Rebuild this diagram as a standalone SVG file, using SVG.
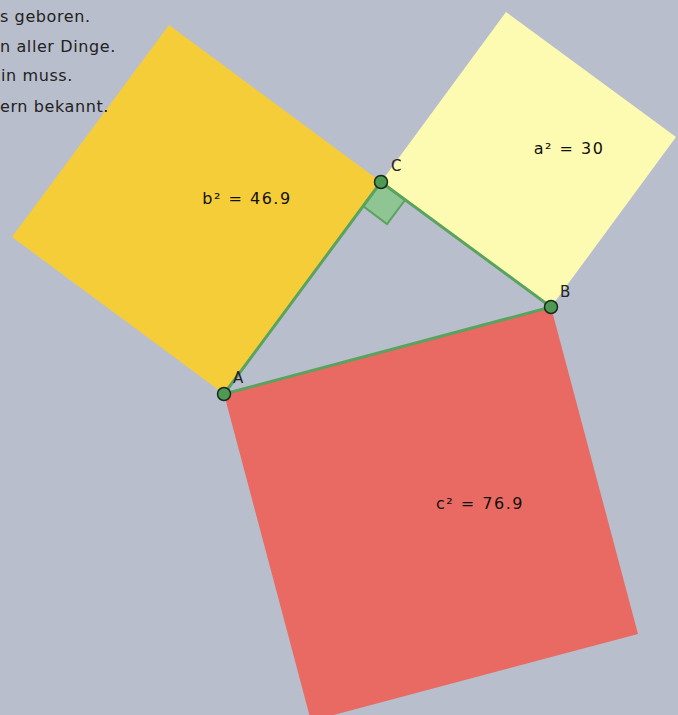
<svg xmlns="http://www.w3.org/2000/svg" width="678" height="715" viewBox="0 0 678 715">
<style>
.t{font-family:"DejaVu Sans","Liberation Sans",sans-serif;font-size:16px;letter-spacing:0.6px;fill:#222}
.lbl{font-family:"DejaVu Sans","Liberation Sans",sans-serif;font-size:16px;letter-spacing:1.5px;fill:#111;text-anchor:middle}
.pl{font-family:"DejaVu Sans","Liberation Sans",sans-serif;font-size:15px;fill:#222}
.side{stroke:#5aa35f;stroke-width:3;stroke-linecap:round;fill:none}
.pt{fill:#4e9a55;stroke:#1a2a1a;stroke-width:1.5}
</style>
<rect width="678" height="715" fill="#b9becd"/>
<g id="squareB"><polygon points="224,394 381,182 169,25 12,237" fill="#f5cd38"/><text class="lbl" x="247" y="204">b² = 46.9</text></g>
<g id="squareA"><polygon points="381,182 551,307 676,137 506,12" fill="#fdfbb1"/><text class="lbl" x="569" y="154">a² = 30</text></g>
<g id="squareC"><polygon points="224,394 551,307 638,634 311,721" fill="#e86a62"/><text class="lbl" x="480" y="509">c² = 76.9</text></g>
<g id="text">
<text class="t" x="0" y="22">s geboren.</text>
<text class="t" x="0" y="52">n aller Dinge.</text>
<text class="t" x="1" y="81">in muss.</text>
<text class="t" x="0" y="112">ern bekannt.</text>
</g>
<g id="rightangle"><polygon points="381,182 363,206 387,224 405,200" fill="#8ec592" stroke="#5aa35f" stroke-width="2"/></g>
<g id="connectors">
<line class="side" x1="224" y1="394" x2="381" y2="182"/>
<line class="side" x1="381" y1="182" x2="551" y2="307"/>
<line class="side" x1="224" y1="394" x2="551" y2="307"/>
</g>
<g id="A"><circle class="pt" cx="224" cy="394" r="6.5"/><text class="pl" x="233" y="383">A</text></g>
<g id="B"><circle class="pt" cx="551" cy="307" r="6.5"/><text class="pl" x="560" y="297">B</text></g>
<g id="C"><circle class="pt" cx="381" cy="182" r="6.5"/><text class="pl" x="391" y="171">C</text></g>
</svg>
